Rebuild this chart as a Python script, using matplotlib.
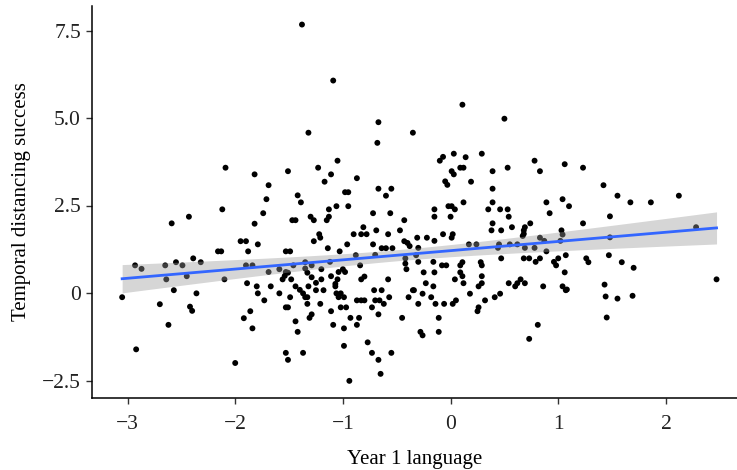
import matplotlib
matplotlib.use("Agg")
import matplotlib.pyplot as plt
import numpy as np

# values
year1_language = [
    -3.05, -2.93, -2.87, -2.92, -2.70, -2.65, -2.64, -2.62, -2.59, -2.57, -2.55, -2.49,
    -2.45, -2.43, -2.42, -2.40, -2.39, -2.36, -2.32, -2.16, -2.13, -2.12, -2.10, -2.09,
    -2.00, -1.95, -1.90, -1.92, -1.89, -1.88, -1.90, -1.86, -1.84, -1.84, -1.82, -1.82,
    # middle, upper
    -1.38, -1.09, -0.67, -1.32, -0.35, -0.68, -1.51, -1.23, -1.05, -1.11, -1.17, -0.87,
    -1.69, -1.71, -1.74, -1.79, -1.42, -1.39, -1.47, -1.44, -1.30, -1.27, -1.13, -1.15,
    -1.13, -1.06, -0.98, -0.95, -0.95, -0.67, -0.55, -0.60, -0.72, -0.56, -0.43, -0.81,
    -0.69, -0.47, -0.90, -0.83, -0.78, -0.58, -1.22, -1.21, -1.27, -0.96, -1.14, -1.03,
    -1.53, -1.49, -0.72, -0.64, -0.60, -0.54, -0.43, -0.40, -0.38, -0.88, -0.70, -0.42,
    -0.42, -1.46, -1.35, -1.29, -1.12, -0.84,
    # middle, lower
    -1.59, -1.35, -1.20, -1.00, -0.41, -1.69, -1.53, -1.04, -0.98, -1.56, -1.54, -1.51,
    -1.48, -1.33, -1.29, -1.20, -1.11, -1.05, -1.07, -0.83, -0.80, -0.58, -1.80, -1.79,
    -1.67, -1.73, -1.59, -1.49, -1.44, -1.40, -1.37, -1.35, -1.33, -1.32, -1.25, -1.25,
    -1.18, -1.07, -1.06, -1.04, -0.99, -1.02, -0.71, -0.64, -0.87, -0.83, -0.80, -0.70,
    -0.66, -0.62, -0.57, -0.39, -0.35, -1.53, -1.51, -1.33, -1.21, -1.11, -1.02, -0.97,
    -0.73, -0.67, -0.45, -1.31, -1.29, -0.93, -0.85, -1.44, -1.09, -0.99, -0.87, -1.42,
    -0.99, -0.77, -1.53, -1.51, -1.37, -0.73, -0.55, -0.67, -0.65, -0.94,
    # right-middle, upper
    0.11, 0.50, -0.10, -0.07, 0.03, 0.14, 0.29, 0.01, 0.03, 0.09, 0.12, -0.05,
    -0.03, 0.19, 0.39, 0.53, 0.78, 0.83, 1.06, 0.39, 0.39, 0.12, -0.02, 0.01,
    0.04, -0.15, -0.15, 0.00, 0.35, 0.46, 0.53, 0.54, 0.89, 1.04, 1.10, 0.92,
    0.39, 0.38, 0.47, 0.57, 0.74, 0.69, 0.68, 0.68, 0.67, 1.03, 1.04, 0.83,
    0.87, 1.02, -0.07, 0.02, 0.01, -0.22, -0.15, -0.31, -0.30, 0.17, 0.24, 0.45,
    0.44, 0.55, 0.62, 0.69, 0.78, 0.89, -0.32, 0.47, 0.68, 0.73, 0.79, 0.83,
    0.96, 1.00, 1.07, -0.30, -0.16, -0.08, -0.04, 0.09, 0.11, 0.28, 0.29, 0.98,
    # right-middle, lower
    -0.25, -0.15, 0.09, 0.11, 0.12, 0.04, 0.29, 0.29, 0.26, 1.06, -0.23, -0.16,
    -0.34, -0.26, -0.18, 0.18, 0.54, 0.60, 0.62, 0.65, 0.69, 0.86, 1.04, 1.07,
    0.41, 0.46, 0.32, 0.05, 0.02, -0.30, -0.14, -0.06, 0.26, 0.25, -0.11, -0.28,
    -0.26, -0.11, 0.81, 0.73,
    # right
    1.23, 1.42, 1.55, 1.67, 1.86, 2.12, 1.23, 1.48, 2.28, 1.48, 1.26, 1.28,
    1.47, 1.59, 1.70, 1.08, 1.43, 1.44, 1.45, 1.55, 1.69, 2.47,
]

temporal_distancing = [
    -0.12, 0.79, 0.69, -1.61, -0.32, 0.79, 0.39, -0.91, 1.99, 0.08, 0.88, 0.79,
    0.48, 2.18, -0.39, -0.51, 0.99, -0.01, 0.88, 1.19, 1.19, 2.39, 0.39, 3.58,
    -2.00, 1.48, 1.48, -0.72, 0.28, 1.19, 0.79, -0.52, 0.79, -1.01, 3.39, 1.98,
    # middle, upper
    7.67, 6.07, 4.88, 4.58, 4.58, 4.29, 3.48, 3.58, 3.78, 3.39, 3.18, 3.28,
    3.08, 2.68, 2.28, 1.39, 2.79, 2.59, 2.08, 2.08, 2.18, 2.08, 2.39, 2.08,
    2.18, 2.48, 2.88, 2.88, 2.48, 2.98, 2.98, 2.78, 2.28, 2.28, 2.08, 1.88,
    1.79, 1.79, 1.68, 1.68, 1.68, 1.68, 1.68, 1.58, 1.48, 1.39, 1.28, 1.19,
    1.19, 1.19, 1.39, 1.28, 1.28, 1.28, 1.48, 1.43, 1.34, 1.08, 1.09, 0.99,
    0.84, 0.79, 0.88, 0.79, 0.89, 0.79,
    # middle, lower
    0.68, 0.70, 0.68, 0.68, 0.68, 0.60, 0.60, 0.60, 0.60, 0.39, 0.49, 0.58,
    0.39, 0.58, 0.45, 0.39, 0.48, 0.39, 0.26, 0.39, 0.47, 0.39, 0.19, -0.01,
    0.19, -0.21, -0.01, -0.12, 0.19, 0.09, -0.01, -0.12, -0.12, 0.19, 0.29, 0.08,
    0.08, 0.19, -0.01, -0.12, -0.12, -0.01, 0.08, 0.08, -0.21, -0.21, -0.21, -0.21,
    -0.21, -0.31, -0.12, -0.12, 0.08, -0.41, -0.41, -0.31, -0.31, -0.52, -0.41, -0.41,
    -0.41, -0.61, -0.71, -0.71, -0.61, -0.71, -0.71, -0.81, -0.91, -1.01, -0.91, -1.11,
    -1.51, -1.41, -1.71, -1.91, -1.71, -1.71, -1.71, -1.91, -2.31, -2.51,
    # right-middle, upper
    5.38, 4.98, 3.78, 3.89, 3.98, 3.88, 3.98, 3.48, 3.39, 3.58, 3.58, 3.19,
    3.09, 3.18, 3.48, 3.58, 3.78, 3.48, 3.68, 2.98, 2.59, 2.59, 2.48, 2.48,
    2.39, 2.39, 2.18, 2.18, 2.39, 2.39, 2.39, 2.18, 2.59, 2.68, 2.48, 2.28,
    1.99, 1.79, 1.79, 1.88, 1.99, 1.88, 1.79, 1.69, 1.63, 1.79, 1.67, 1.58,
    1.49, 1.49, 1.68, 1.68, 1.58, 1.58, 1.49, 1.58, 1.29, 1.39, 1.39, 1.39,
    1.29, 1.39, 1.39, 1.29, 1.29, 1.19, 1.08, 0.99, 0.99, 0.99, 0.89, 0.99,
    0.89, 0.99, 1.08, 0.89, 0.89, 0.79, 0.79, 0.79, 0.88, 0.88, 0.79, 0.79,
    # right-middle, lower
    0.59, 0.59, 0.59, 0.48, 0.28, 0.39, 0.48, 0.28, 0.19, 0.59, 0.28, 0.19,
    0.08, -0.02, -0.12, -0.02, 0.28, 0.19, 0.28, 0.39, 0.28, 0.19, 0.19, 0.08,
    -0.12, -0.02, -0.21, -0.21, -0.31, -0.31, -0.31, -0.31, -0.41, -0.52, -0.71, -1.11,
    -1.21, -1.11, -0.91, -1.31,
    # right
    3.58, 3.08, 2.78, 2.59, 2.59, 2.78, 1.99, 2.19, 1.88, 1.59, 0.99, 0.88,
    1.08, 0.88, 0.72, 0.10, 0.24, -0.10, -0.70, -0.16, -0.08, 0.39,
]

x = np.array(year1_language)
y = np.array(temporal_distancing)

# linear fit with 95% confidence band
n = len(x)
slope, intercept = np.polyfit(x, y, 1)
resid = y - (intercept + slope * x)
s = np.sqrt(np.sum(resid ** 2) / (n - 2))
xg = np.linspace(x.min(), x.max(), 100)
yg = intercept + slope * xg
se = s * np.sqrt(1 / n + (xg - x.mean()) ** 2 / np.sum((x - x.mean()) ** 2))
t = 1.966

plt.rcParams["font.family"] = ["Liberation Serif", "DejaVu Serif"]

fig = plt.figure(figsize=(7.37, 4.70), dpi=100)
ax = fig.add_axes([92 / 737, 72 / 470, 645 / 737, 392 / 470])

ax.scatter(x, y, s=18, color="black", edgecolors="none", zorder=2)
ax.fill_between(xg, yg - t * se, yg + t * se, color="#999999", alpha=0.4,
                linewidth=0, zorder=3)
ax.plot(xg, yg, color="#3366FF", linewidth=2.0, zorder=4)

ax.set_xlim(-3.33, 2.66)
ax.set_ylim(-3.0, 8.2)
ax.set_xticks([-3, -2, -1, 0, 1, 2])
ax.set_xticklabels(["\u22123", "\u22122", "\u22121", "0", "1", "2"])
ax.set_yticks([-2.5, 0, 2.5, 5.0, 7.5])
ax.set_yticklabels(["\u22122.5", "0", "2.5", "5.0", "7.5"])

for side in ["top", "right"]:
    ax.spines[side].set_visible(False)
for side in ["left", "bottom"]:
    ax.spines[side].set_linewidth(1.1)
ax.tick_params(direction="out", length=4, width=1, color="#333333",
               labelsize=15.5, labelcolor="#222222")
ax.tick_params(axis="x", pad=8)
ax.tick_params(axis="y", pad=4)

ax.set_xlabel("Year 1 language", fontsize=15, labelpad=12)
ax.set_ylabel("Temporal distancing success", fontsize=15, labelpad=8)

fig.savefig("out.png", dpi=100)
